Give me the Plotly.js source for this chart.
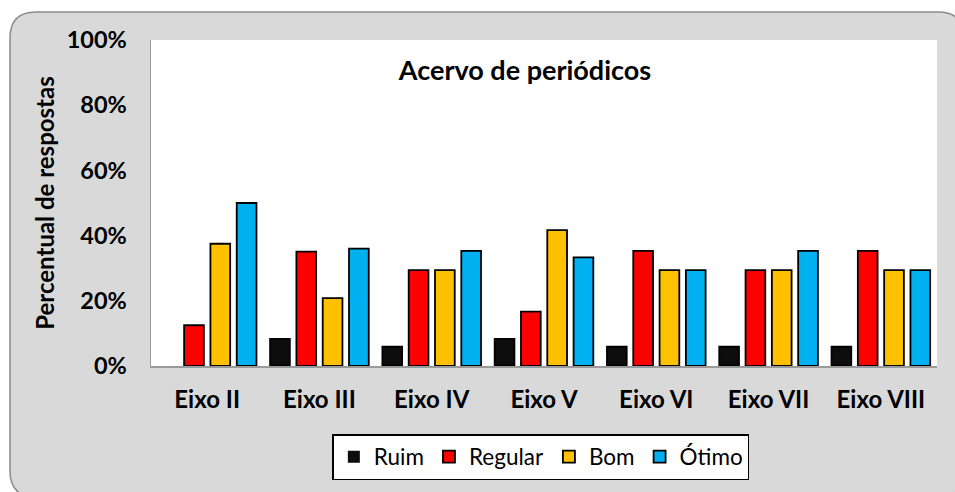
<!DOCTYPE html>
<html>
<head>
<meta charset="utf-8">
<script src="https://cdn.plot.ly/plotly-3.0.1.min.js"></script>
<style>html,body{margin:0;padding:0;background:#fff;}#chart{width:955px;height:492px;}</style>
</head>
<body>
<div id="chart"></div>
<script>
const categories = ["Eixo II", "Eixo III", "Eixo IV", "Eixo V", "Eixo VI", "Eixo VII", "Eixo VIII"];
const ruim    = [0, 8.3, 5.9, 8.3, 5.9, 5.9, 5.9];
const regular = [12.5, 35.1, 29.4, 16.7, 35.3, 29.4, 35.3];
const bom     = [37.5, 20.8, 29.4, 41.7, 29.4, 29.4, 29.4];
const otimo   = [50.0, 36.0, 35.3, 33.3, 29.4, 35.3, 29.4];
const seriesNames = ["Ruim", "Regular", "Bom", "Ótimo"];
const seriesColors = ["#0d0d0d", "#ff0000", "#ffc000", "#00b0f0"];
const seriesValues = [ruim, regular, bom, otimo];

const W = 955, H = 492;
const M = {l: 151, r: 18, t: 40, b: 126};
const PW = W - M.l - M.r, PH = H - M.t - M.b;
const px = x => (x - M.l) / PW;
const py = y => (H - M.b - y) / PH;

// rounded frame path in paper coords
function roundRect(x0, y0, x1, y1, r) {
  return `M${px(x0 + r)},${py(y0)} L${px(x1 - r)},${py(y0)} Q${px(x1)},${py(y0)} ${px(x1)},${py(y0 + r)} ` +
         `L${px(x1)},${py(y1 - r)} Q${px(x1)},${py(y1)} ${px(x1 - r)},${py(y1)} ` +
         `L${px(x0 + r)},${py(y1)} Q${px(x0)},${py(y1)} ${px(x0)},${py(y1 - r)} ` +
         `L${px(x0)},${py(y0 + r)} Q${px(x0)},${py(y0)} ${px(x0 + r)},${py(y0)} Z`;
}

const FONT = "Lato, 'Open Sans', sans-serif";

const traces = seriesNames.map((name, i) => ({
  type: "bar",
  name: name,
  x: categories,
  y: seriesValues[i],
  marker: {
    color: seriesColors[i],
    line: {color: "#000000", width: seriesValues[i].map(v => (v > 0 ? 1.8 : 0))}
  },
  hoverinfo: "x+y+name"
}));

const layout = {
  width: W, height: H,
  margin: M,
  paper_bgcolor: "#ffffff",
  plot_bgcolor: "#ffffff",
  barmode: "group",
  bargap: 0.063,
  bargroupgap: 0.25,
  font: {family: FONT, color: "#000000"},
  title: {
    text: "<b>Acervo de periódicos</b>",
    font: {family: FONT, size: 27, color: "#000000"},
    xref: "container", x: 525 / W, xanchor: "center",
    yref: "container", y: 1 - 71 / H, yanchor: "middle"
  },
  xaxis: {
    showline: true, linecolor: "#9a9a9a", linewidth: 1.5,
    showgrid: false, zeroline: false, ticks: "",
    tickfont: {family: FONT, size: 24, color: "#000000", weight: "bold"},
    ticklabelstandoff: 12,
    fixedrange: true
  },
  yaxis: {
    range: [0, 100], dtick: 20, ticksuffix: "%",
    showline: true, linecolor: "#9a9a9a", linewidth: 1.5,
    showgrid: false, zeroline: false, ticks: "",
    tickfont: {family: FONT, size: 23.5, color: "#000000", weight: "bold"},
    ticklabelstandoff: 18,
    title: {text: "<b>Percentual de respostas</b>", font: {family: FONT, size: 24, color: "#000000"}, standoff: 5},
    fixedrange: true
  },
  showlegend: true,
  legend: {
    orientation: "h",
    x: 0.496, xanchor: "center",
    y: py(434), yanchor: "top",
    bgcolor: "#ffffff", bordercolor: "#000000", borderwidth: 1.5,
    font: {family: FONT, size: 22.5, color: "#000000"},
    traceorder: "normal"
  },
  shapes: [
    {type: "path", xref: "paper", yref: "paper", layer: "below",
     path: roundRect(10, 12, 964, 497, 26),
     fillcolor: "#d9d9d9", line: {color: "#8c8c8c", width: 1.5}},
    {type: "rect", xref: "paper", yref: "paper", layer: "below",
     x0: 0, x1: 1, y0: 0, y1: 1, fillcolor: "#ffffff", line: {width: 0}}
  ]
};

Plotly.newPlot("chart", traces, layout, {displayModeBar: false, staticPlot: true});
</script>
</body>
</html>
